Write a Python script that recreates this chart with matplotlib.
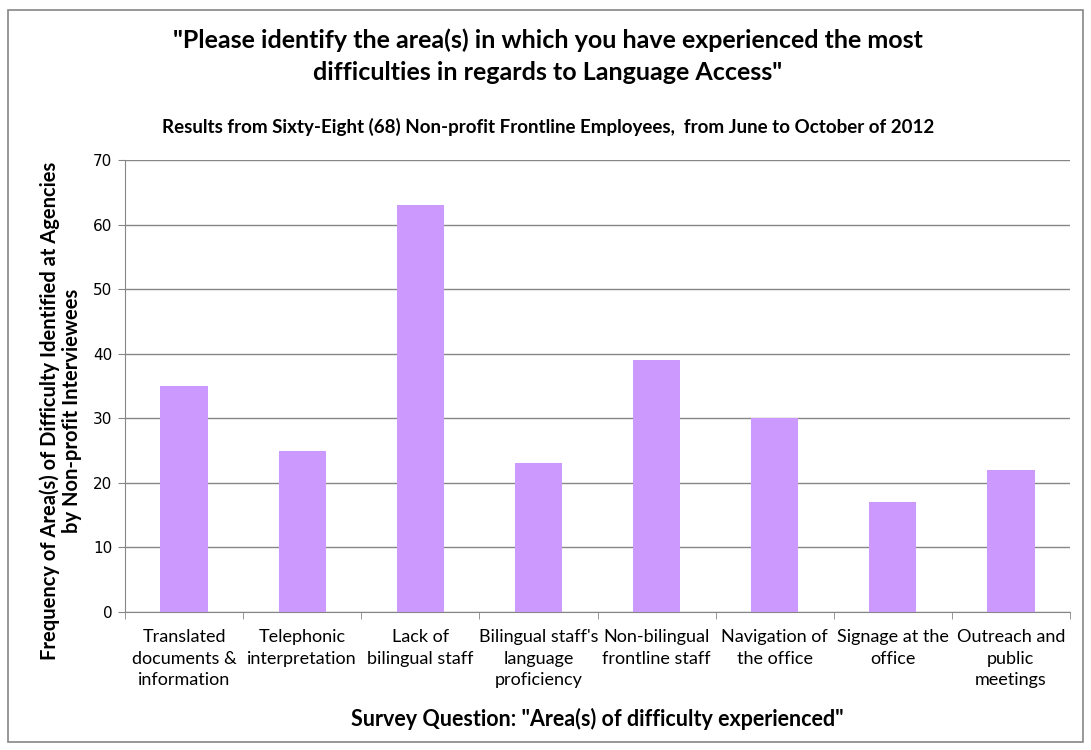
import numpy as np
import matplotlib.pyplot as plt
from matplotlib.patches import Rectangle

# Survey data
categories = ['Translated\ndocuments &\ninformation', 'Telephonic\ninterpretation',
              'Lack of\nbilingual staff', "Bilingual staff's\nlanguage\nproficiency",
              'Non-bilingual\nfrontline staff', 'Navigation of\nthe office',
              'Signage at the\noffice', 'Outreach and\npublic\nmeetings']
counts = [35, 25, 63, 23, 39, 30, 17, 22]
yticks = [0, 10, 20, 30, 40, 50, 60, 70]

lab_font = ['Lato', 'DejaVu Sans']

fig = plt.figure(figsize=(10.91, 7.5), dpi=100)
ax = fig.add_axes([125/1091, 1 - 612/750, (1070-125)/1091, (612-160)/750])

x = np.arange(len(counts))
ax.bar(x, counts, width=0.4, color='#CC99FF', zorder=3)

ax.set_xlim(-0.5, len(counts) - 0.5)
ax.set_ylim(0, 70)
ax.set_yticks(yticks)
ax.set_yticklabels([str(t) for t in yticks], fontsize=11, family='DejaVu Sans')
ax.yaxis.grid(True, color='#868686', linewidth=1, zorder=0)
ax.set_xticks(np.arange(len(counts) + 1) - 0.5, minor=True)
ax.set_xticks(x)
ax.set_xticklabels(categories, fontsize=13, family=lab_font, linespacing=1.45)
ax.tick_params(axis='x', which='major', length=0, pad=12)
ax.tick_params(axis='x', which='minor', length=5, color='#868686')
ax.tick_params(axis='y', length=5, color='#868686', pad=4)
for s in ['top', 'right']:
    ax.spines[s].set_visible(False)
ax.spines['left'].set_color('#868686')
ax.spines['bottom'].set_color('#868686')

ax.set_ylabel('Frequency of Area(s) of Difficulty Identified at Agencies\nby Non-profit Interviewees',
              fontsize=14.5, fontweight='bold', family=lab_font, linespacing=1.1)
ax.yaxis.set_label_coords(-0.046, 0.445)
ax.set_xlabel('Survey Question: "Area(s) of difficulty experienced"',
              fontsize=15.5, fontweight='bold', family=lab_font, labelpad=14)

fig.text(548/1091, 1 - 56/750,
         '"Please identify the area(s) in which you have experienced the most\ndifficulties in regards to Language Access"',
         ha='center', va='center', fontsize=18, fontweight='bold', family=lab_font, linespacing=1.5)
fig.text(548/1091, 1 - 127/750,
         'Results from Sixty-Eight (68) Non-profit Frontline Employees,  from June to October of 2012',
         ha='center', va='center', fontsize=13.5, fontweight='bold', family=lab_font)

# chart border
fig.patches.append(Rectangle((8/1091, 8/750), 1075/1091, 732/750, transform=fig.transFigure,
                             fill=False, edgecolor='#868686', linewidth=1.2))

fig.savefig('out.png', dpi=100)
